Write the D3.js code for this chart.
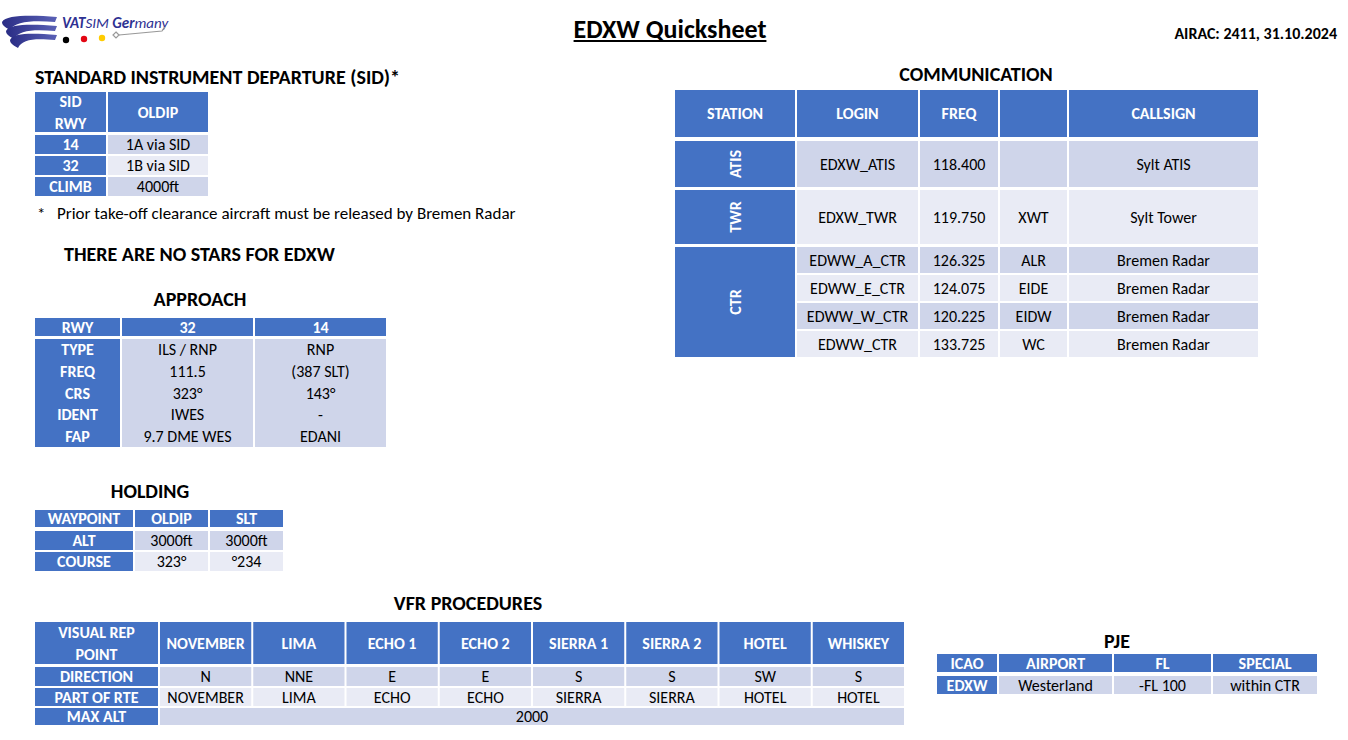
<!DOCTYPE html>
<html>
<head>
<meta charset="utf-8">
<script src="https://cdn.jsdelivr.net/npm/d3@7"></script>
<style>
  body { margin: 0; background: #fff; }
  svg { display: block; font-family: Carlito, Calibri, Lato, "Noto Sans", sans-serif; }
</style>
</head>
<body>
<svg id="sheet" width="1348" height="740"></svg>
<script>
// ---- sheet content ----
var sheetTitle = 'EDXW Quicksheet';
var airac = 'AIRAC: 2411, 31.10.2024';

var sidHeader = ['SID\nRWY', 'OLDIP'];
var sidRows = [
  ['14', '1A via SID'],
  ['32', '1B via SID'],
  ['CLIMB', '4000ft']
];
var sidNote = 'Prior take-off clearance aircraft must be released by Bremen Radar';
var starNote = 'THERE ARE NO STARS FOR EDXW';

var apchHeader = ['RWY', '32', '14'];
var apchRows = [
  ['TYPE', 'ILS / RNP', 'RNP'],
  ['FREQ', '111.5', '(387 SLT)'],
  ['CRS', '323°', '143°'],
  ['IDENT', 'IWES', '-'],
  ['FAP', '9.7 DME WES', 'EDANI']
];

var holdHeader = ['WAYPOINT', 'OLDIP', 'SLT'];
var holdRows = [
  ['ALT', '3000ft', '3000ft'],
  ['COURSE', '323°', '°234']
];

var commHeader = ['STATION', 'LOGIN', 'FREQ', '', 'CALLSIGN'];
var commStations = [['ATIS', 1], ['TWR', 1], ['CTR', 4]];
var commRows = [
  ['EDXW_ATIS', '118.400', '', 'Sylt ATIS'],
  ['EDXW_TWR', '119.750', 'XWT', 'Sylt Tower'],
  ['EDWW_A_CTR', '126.325', 'ALR', 'Bremen Radar'],
  ['EDWW_E_CTR', '124.075', 'EIDE', 'Bremen Radar'],
  ['EDWW_W_CTR', '120.225', 'EIDW', 'Bremen Radar'],
  ['EDWW_CTR', '133.725', 'WC', 'Bremen Radar']
];

var vfrLabels = ['VISUAL REP\nPOINT', 'DIRECTION', 'PART OF RTE', 'MAX ALT'];
var vfrPoints = ['NOVEMBER', 'LIMA', 'ECHO 1', 'ECHO 2', 'SIERRA 1', 'SIERRA 2', 'HOTEL', 'WHISKEY'];
var vfrDirection = ['N', 'NNE', 'E', 'E', 'S', 'S', 'SW', 'S'];
var vfrRoute = ['NOVEMBER', 'LIMA', 'ECHO', 'ECHO', 'SIERRA', 'SIERRA', 'HOTEL', 'HOTEL'];
var vfrMaxAlt = '2000';

var pjeHeader = ['ICAO', 'AIRPORT', 'FL', 'SPECIAL'];
var pjeRows = [['EDXW', 'Westerland', '-FL 100', 'within CTR']];


var BLUE = '#4472C4';
var BAND1 = '#CFD5EA';
var BAND2 = '#E9EBF5';
var FS = 16;
var LH = 22;

var svg = d3.select('#sheet');
var rects = [];
var labels = [];


function cellFill(i, j) {
  if (i === 0 || j === 0) return BLUE;
  return i % 2 ? BAND1 : BAND2;
}


function pushCell(x0, x1, y0, y1, fill, text, head, rotate) {
  rects.push({x0: x0, x1: x1, y0: y0, y1: y1, fill: fill});
  pushText((x0 + x1) / 2, (y0 + y1) / 2, text, head, rotate);
}


function pushText(cx, cy, text, head, rotate) {
  var lines = String(text).split('\n');
  lines.forEach(function(l, k) {
    labels.push({
      x: cx,
      y: cy + (k - (lines.length - 1) / 2) * LH,
      text: l,
      bold: head,
      color: head ? '#fff' : '#000',
      rotate: rotate
    });
  });
}


// plain grid: row 0 header, column 0 row labels
function table(colEdges, rowEdges, rows) {
  rows.forEach(function(row, i) {
    row.forEach(function(t, j) {
      var c = colEdges[j];
      var r = rowEdges[i];
      pushCell(c[0], c[1], r[0], r[1], cellFill(i, j), t, i === 0 || j === 0);
    });
  });
}


// ---- SID ----
table(
  [[35, 106], [108, 208]],
  [[92, 132], [135, 154], [156, 175], [177, 196]],
  [sidHeader].concat(sidRows)
);

// ---- approach: data rows share one block per column ----
(function() {
  var cols = [[35, 120], [122, 253], [255, 386]];
  var y = d3.scaleBand().domain(d3.range(apchRows.length)).range([339, 447]);
  apchHeader.forEach(function(t, j) {
    pushCell(cols[j][0], cols[j][1], 318, 336, BLUE, t, true);
  });
  cols.forEach(function(c, j) {
    rects.push({x0: c[0], x1: c[1], y0: y.range()[0], y1: y.range()[1], fill: j ? BAND1 : BLUE});
  });
  apchRows.forEach(function(row, i) {
    row.forEach(function(t, j) {
      pushText((cols[j][0] + cols[j][1]) / 2, y(i) + y.bandwidth() / 2, t, j === 0);
    });
  });
})();

// ---- holding ----
table(
  [[35, 133], [135, 208], [210, 283]],
  [[510, 527], [531, 550], [552, 571]],
  [holdHeader].concat(holdRows)
);

// ---- communication ----
(function() {
  var cols = [[675, 795], [797, 918], [920, 998], [1000, 1067], [1069, 1258]];
  var rowEdges = [[141, 187], [190, 244], [247, 273], [275, 301], [303, 329], [331, 357]];
  commHeader.forEach(function(t, j) {
    pushCell(cols[j][0], cols[j][1], 90, 137, BLUE, t, true);
  });
  commRows.forEach(function(row, i) {
    row.forEach(function(t, j) {
      var c = cols[j + 1];
      pushCell(c[0], c[1], rowEdges[i][0], rowEdges[i][1], cellFill(i + 1, j + 1), t, false);
    });
  });
  var k = 0;
  commStations.forEach(function(s) {
    var y0 = rowEdges[k][0];
    var y1 = rowEdges[k + s[1] - 1][1];
    pushCell(cols[0][0], cols[0][1], y0, y1, BLUE, s[0], true, true);
    k += s[1];
  });
})();

// ---- VFR procedures ----
(function() {
  var x = d3.scaleBand().domain(vfrPoints).range([160, 904]).paddingInner(2 / 93).paddingOuter(0);
  var rowEdges = [[622, 664], [667, 686], [688, 706], [708, 725]];
  var first = [35, 158];
  vfrLabels.forEach(function(t, i) {
    pushCell(first[0], first[1], rowEdges[i][0], rowEdges[i][1], BLUE, t, true);
  });
  [vfrPoints, vfrDirection, vfrRoute].forEach(function(row, i) {
    row.forEach(function(t, j) {
      var x0 = x(vfrPoints[j]);
      pushCell(x0, x0 + x.bandwidth(), rowEdges[i][0], rowEdges[i][1], cellFill(i, 1), t, i === 0);
    });
  });
  pushCell(x(vfrPoints[0]), x(vfrPoints[vfrPoints.length - 1]) + x.bandwidth(),
    rowEdges[3][0], rowEdges[3][1], BAND1, vfrMaxAlt, false);
})();

// ---- PJE ----
table(
  [[937, 997], [999, 1112], [1114, 1211], [1213, 1317]],
  [[654, 672], [676, 694]],
  [pjeHeader].concat(pjeRows)
);


svg.append('g')
  .selectAll('rect')
  .data(rects)
  .join('rect')
    .attr('x', function(d) { return d.x0; })
    .attr('y', function(d) { return d.y0; })
    .attr('width', function(d) { return d.x1 - d.x0; })
    .attr('height', function(d) { return d.y1 - d.y0; })
    .attr('fill', function(d) { return d.fill; });

svg.append('g')
  .selectAll('text')
  .data(labels)
  .join('text')
    .attr('transform', function(d) {
      return 'translate(' + d.x + ',' + d.y + ')' + (d.rotate ? ' rotate(-90)' : '');
    })
    .attr('text-anchor', 'middle')
    .attr('dy', '0.35em')
    .attr('font-size', FS)
    .attr('font-weight', function(d) { return d.bold ? 700 : 400; })
    .attr('fill', function(d) { return d.color; })
    .text(function(d) { return d.text; });


// ---- headings ----
var headings = [
  {x: 35, y: 77, text: 'STANDARD INSTRUMENT DEPARTURE (SID)*', anchor: 'start'},
  {x: 64, y: 254, text: starNote, anchor: 'start'},
  {x: 200, y: 299, text: 'APPROACH'},
  {x: 150, y: 491, text: 'HOLDING'},
  {x: 976, y: 74, text: 'COMMUNICATION'},
  {x: 468, y: 603, text: 'VFR PROCEDURES'},
  {x: 1117, y: 641, text: 'PJE'}
];

svg.append('g')
  .selectAll('text')
  .data(headings)
  .join('text')
    .attr('x', function(d) { return d.x; })
    .attr('y', function(d) { return d.y; })
    .attr('dy', '0.35em')
    .attr('text-anchor', function(d) { return d.anchor || 'middle'; })
    .attr('font-size', 20)
    .attr('font-weight', 700)
    .text(function(d) { return d.text; });

svg.append('text')
  .attr('x', 37).attr('y', 213).attr('dy', '0.35em')
  .attr('font-size', 17)
  .text('*');
svg.append('text')
  .attr('x', 57).attr('y', 213).attr('dy', '0.35em')
  .attr('font-size', 17)
  .text(sidNote);

var title = svg.append('text')
  .attr('x', 670).attr('y', 29).attr('dy', '0.35em')
  .attr('text-anchor', 'middle')
  .attr('font-size', 26)
  .attr('font-weight', 700)
  .text(sheetTitle);
var tw = title.node().getComputedTextLength();
svg.append('line')
  .attr('x1', 670 - tw / 2).attr('x2', 670 + tw / 2)
  .attr('y1', 41).attr('y2', 41)
  .attr('stroke', '#000').attr('stroke-width', 1.8);

svg.append('text')
  .attr('x', 1337).attr('y', 33).attr('dy', '0.35em')
  .attr('text-anchor', 'end')
  .attr('font-size', 16)
  .attr('font-weight', 700)
  .text(airac);


// ---- logo ----
var logo = svg.append('g').attr('class', 'logo');
var grad = svg.append('defs').append('linearGradient')
  .attr('id', 'swoosh').attr('x1', 0).attr('x2', 1);
grad.append('stop').attr('offset', 0).attr('stop-color', '#2a2d85');
grad.append('stop').attr('offset', 1).attr('stop-color', '#5a61b6');

[0, 1, 2].forEach(function(k) {
  var ox = 2 + 4 * k, oy = 9 * k;
  logo.append('path')
    .attr('fill', 'url(#swoosh)')
    .attr('d',
      'M' + ox + ',' + (22 + oy) +
      'C' + (ox + 4) + ',' + (15 + oy) + ' 30,' + (15 + oy) + ' 57,' + (17 + oy) +
      'L55,' + (22 + oy) +
      'C35,' + (20 + oy) + ' ' + (ox + 12) + ',' + (21 + oy) + ' ' + (ox + 8) + ',' + (30 + oy) +
      'C' + (ox + 5) + ',' + (28 + oy) + ' ' + ox + ',' + (26 + oy) + ' ' + ox + ',' + (22 + oy) + 'Z');
});

var brand = logo.append('text')
  .attr('x', 62).attr('y', 28)
  .attr('font-size', 15)
  .attr('font-style', 'italic')
  .attr('fill', '#2e3192');
brand.append('tspan').attr('font-weight', 700).text('VAT');
brand.append('tspan').attr('font-weight', 400).text('SIM ');
brand.append('tspan').attr('font-weight', 700).text('Ger');
brand.append('tspan').attr('font-weight', 400).text('many');

logo.selectAll('circle')
  .data([['#000', 66, 40], ['#e30613', 84, 39], ['#ffcc00', 102, 38]])
  .join('circle')
    .attr('cx', function(d) { return d[1]; })
    .attr('cy', function(d) { return d[2]; })
    .attr('r', 3.2)
    .attr('fill', function(d) { return d[0]; });

logo.append('path')
  .attr('d', 'M116,32 L119,35 L116,38 L113,35 Z')
  .attr('fill', '#fff').attr('stroke', '#999').attr('stroke-width', 1.2);
logo.append('path')
  .attr('d', 'M119,35 L162,31 L165,27')
  .attr('fill', 'none').attr('stroke', '#999').attr('stroke-width', 1.2);
</script>
</body>
</html>
